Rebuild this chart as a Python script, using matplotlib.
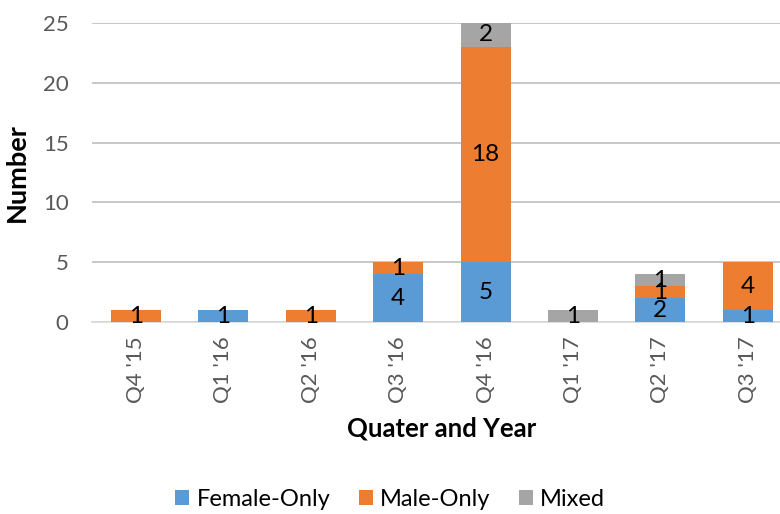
import matplotlib
matplotlib.use("Agg")
import matplotlib.pyplot as plt
import numpy as np

categories = ["Q4 '15", "Q1 '16", "Q2 '16", "Q3 '16", "Q4 '16", "Q1 '17", "Q2 '17", "Q3 '17"]
female_only = [0, 1, 0, 4, 5, 0, 2, 1]
male_only = [1, 0, 1, 1, 18, 0, 1, 4]
mixed = [0, 0, 0, 0, 2, 1, 1, 0]
series_names = ["Female-Only", "Male-Only", "Mixed"]
colors = ["#5B9BD5", "#ED7D31", "#A5A5A5"]
y_ticks = [0, 5, 10, 15, 20, 25]

plt.rcParams['font.family'] = ['Lato', 'DejaVu Sans']

fig = plt.figure(figsize=(7.8, 5.14), dpi=100)
ax = fig.add_axes([92.3/780, 1 - 322/514, (791.5 - 92.3)/780, (322 - 23)/514])

x = np.arange(len(categories))
bottom = np.zeros(len(categories))
for name, vals, col in zip(series_names, [female_only, male_only, mixed], colors):
    vals = np.array(vals, dtype=float)
    ax.bar(x, vals, 0.57, bottom=bottom, color=col, label=name, zorder=3)
    for xi, v, b in zip(x, vals, bottom):
        if v > 0:
            ax.text(xi, b + v / 2, f"{int(v)}", ha='center', va='center',
                    fontsize=17.5, color='black', zorder=4)
    bottom += vals

ax.set_xlim(-0.5, len(categories) - 0.5)
ax.set_ylim(0, 25)
ax.set_yticks(y_ticks)
ax.yaxis.grid(True, color='#BFBFBF', linewidth=1.2, zorder=0)
ax.set_axisbelow(True)
for s in ['top', 'right', 'left']:
    ax.spines[s].set_visible(False)
ax.spines['bottom'].set_color('#D9D9D9')
ax.spines['bottom'].set_linewidth(1.2)
ax.tick_params(axis='both', length=0, labelsize=16, colors='#595959')
ax.tick_params(axis='y', pad=17)
ax.set_xticks(x)
ax.set_xticklabels(categories, rotation=90)
ax.tick_params(axis='x', pad=10)

ax.set_ylabel("Number", fontsize=19.5, fontweight='bold', labelpad=10)
ax.set_xlabel("Quater and Year", fontsize=18.5, fontweight='bold', labelpad=10)

handles, labels = ax.get_legend_handles_labels()
fig.legend(handles, labels, loc='center', bbox_to_anchor=(0.5, 1 - 499/514), ncol=3,
           frameon=False, fontsize=17, handlelength=0.6, handleheight=0.6,
           handletextpad=0.3, columnspacing=1.2)

fig.savefig("out.png", dpi=100)
